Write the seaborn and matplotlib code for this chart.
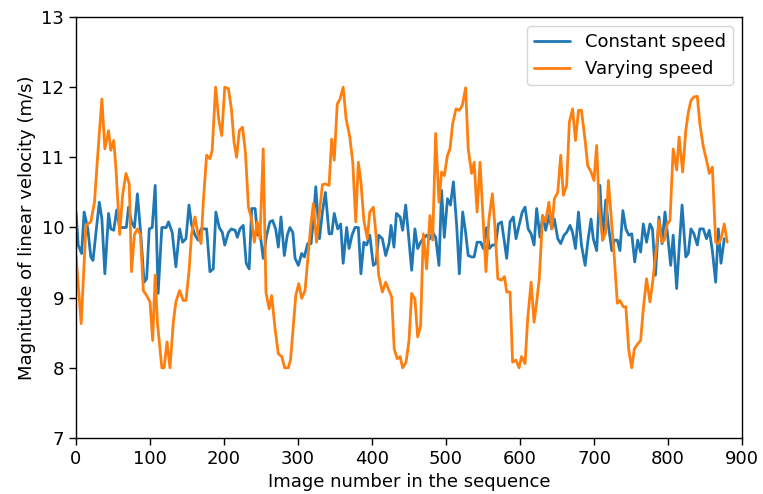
import matplotlib
matplotlib.use("Agg")
import matplotlib.pyplot as plt
import seaborn as sns
import pandas as pd

# Constant-speed run: frame index and speed magnitude
const_frame = [0, 3, 7.6, 11, 16, 20, 23, 27, 31.5, 35, 39, 44, 47, 51, 55, 59, 64, 68, 71, 75,
               79, 83, 88, 92, 95.5, 99, 103, 107, 111, 116, 122, 125, 130, 135, 140,
               144, 148.6, 152.7, 156, 160.8, 165, 169, 173, 176.5, 181, 185.5, 189, 193.6, 197.7,
               201, 206, 210, 215, 218, 221.6, 226, 230, 234, 237.4, 242, 245.5, 248.6, 253,
               257.6, 262, 265.7, 269.8, 273.4, 277, 281.5, 285.5, 289,
               293, 296, 300.5, 305, 308.6, 313, 317.6, 320.7, 324, 329, 333, 337, 342, 345.5,
               349, 353.6, 357.7, 361, 365.8, 369, 373, 377, 381.5, 385, 389, 392.8, 397, 401.8,
               405.5, 409, 414, 418.5, 423, 425.7, 429.7, 433, 438,
               441.4, 445.5, 449, 453.6, 458, 461.7, 465.7, 469.3, 473.8, 478.3, 482, 486, 490.5,
               494, 497.7, 502, 506, 510, 514.4, 518, 522.5, 526.5, 530, 534.6, 538, 542, 546.8,
               550.4, 555, 558.5, 562.6, 567, 570.7, 575, 579, 582, 586.5,
               591, 594.6, 598.7, 603, 606.8, 611, 615, 619, 622.5, 627, 630.6, 634.7, 639, 643,
               646.4, 651, 655, 659.5, 663, 667.6, 671, 675, 679, 683, 688, 691.5, 696, 699,
               703.6, 708, 711.7, 715.8, 719.4, 724, 727.5, 731.5, 735,
               739, 743, 747, 751, 755, 759, 763, 766.6, 771, 775.6, 779, 783, 787.8, 792, 795.9,
               799.5, 803.6, 807, 811.7, 815, 819, 824, 827.4, 831, 835, 839.6, 843, 847.7, 852,
               855.8, 859.9, 864.4, 868, 871.6, 876]
const_speed = [10.22, 9.75, 9.63, 10.22, 9.98, 9.58, 9.53, 9.93, 10.36, 10.12, 9.34, 10.2, 9.98,
               9.96, 10.25, 10.0, 10.0, 10.0, 10.29, 10.08, 10.0, 10.48, 9.84, 9.22, 9.27, 9.98,
               10.0, 10.6, 9.06, 10.0, 10.0, 10.08, 9.93, 9.44, 9.98,
               9.79, 9.84, 10.32, 10.05, 9.89, 9.82, 9.98, 9.98, 9.98, 9.37, 9.41, 10.22, 10.0,
               9.93, 9.75, 9.93, 9.98, 9.96, 9.86, 9.98, 10.03, 9.49, 9.41, 10.27, 10.27, 9.89,
               9.93, 9.56, 9.89, 10.08, 10.1, 9.98, 9.72, 10.15, 9.6, 9.89, 10.0,
               9.93, 9.56, 9.46, 9.63, 9.58, 9.77, 9.77, 10.1, 10.58, 9.84, 10.22, 10.5, 9.91,
               9.91, 10.2, 9.98, 10.05, 9.49, 10.0, 9.7, 9.89, 10.0, 10.0, 9.34, 9.79, 9.75,
               9.89, 9.46, 9.49, 9.89, 9.84, 9.6, 9.77, 10.03, 9.72, 10.2, 10.15,
               9.96, 10.32, 9.93, 9.39, 9.98, 9.7, 9.79, 9.84, 9.89, 9.84, 9.93, 9.86, 9.46,
               10.53, 9.86, 10.41, 10.32, 10.65, 10.03, 9.34, 10.22, 9.93, 9.6, 9.58, 9.58, 9.79,
               9.79, 9.7, 10.0, 9.7, 9.75, 9.75, 10.05, 10.08, 9.79, 9.56, 10.08,
               10.15, 9.84, 10.03, 10.22, 10.29, 9.98, 9.91, 9.75, 10.27, 9.86, 10.17, 9.96,
               10.17, 9.98, 10.12, 9.84, 9.77, 9.89, 9.93, 10.03, 9.93, 9.7, 10.22, 9.75, 9.46,
               9.79, 10.12, 9.84, 9.67, 10.6, 9.82, 10.39, 10.03, 9.67, 9.82, 9.82, 9.67,
               10.24, 9.98, 9.89, 9.91, 9.51, 9.82, 9.65, 10.05, 9.79, 10.05, 9.98, 9.32, 10.15,
               9.77, 10.22, 9.89, 9.46, 9.89, 9.13, 9.7, 10.32, 9.58, 9.63, 9.98, 9.91, 9.75,
               9.98, 9.98, 9.84, 9.96, 9.67, 9.22, 9.98, 9.49, 9.84]

# Varying-speed run: frame index and speed magnitude
vary_frame = [0, 7, 13.5, 20, 25, 29, 35, 39, 44, 47, 51, 54, 59, 63, 67.5, 72, 75, 79, 83, 87,
              91, 95.5, 100, 103.6, 107, 110, 116, 119, 123, 127, 131.5, 135, 140,
              145, 148.6, 152.7, 156, 160.8, 165, 169, 172, 176.5, 181, 184, 188.7, 193, 197,
              201, 206, 210, 213.5, 217, 220.7, 225, 229, 233, 237, 241, 245, 248.6, 253,
              256.7, 261, 264.4, 269, 273.4, 278, 282, 287,
              290, 293.7, 297, 301, 305, 309.5, 314, 317, 320.7, 325, 329, 333, 337, 342,
              345.5, 349, 353, 356.8, 361, 365, 370, 374, 378, 381.5, 385, 389, 393.7, 397,
              401.8, 405.5, 409, 414, 418.5, 422, 426.6, 430, 434, 438,
              441.4, 446, 450, 453.6, 458, 461.7, 465.7, 469.3, 473.8, 478.3, 482, 486, 490.5,
              494, 497.7, 502, 505.4, 509, 513.5, 518, 522, 526.5, 530, 534.6, 538, 542, 546,
              550.4, 554, 558, 562.6, 566, 570, 575, 579, 582, 586.5,
              590, 594.6, 598.7, 602, 606.8, 610.4, 615, 619, 622.5, 626, 630.6, 634.7, 639,
              643, 646.4, 651, 655, 658.6, 663, 666.7, 671, 675, 679, 683, 688, 691.5, 696,
              700, 703.6, 707, 711.7, 715.8, 719.4, 724, 727.5, 731.5, 735,
              739.6, 743, 747, 751, 754.5, 759, 763, 766.6, 771, 775.6, 779, 783, 787.8, 791.4,
              795, 799, 802.7, 807, 811.7, 815, 819.8, 824, 827.4, 831, 835, 839.6, 843, 847.7,
              852, 855.8, 859.9, 864.4, 868, 871.6, 876, 880]
vary_speed = [9.6, 8.63, 10.03, 10.08, 10.36, 10.98, 11.83, 11.12, 11.38, 11.1, 11.24, 10.84,
              9.9, 10.46, 10.77, 10.62, 9.37, 9.9, 9.98, 9.9, 9.1, 9.03, 8.94, 8.39, 9.32, 8.65,
              8.0, 8.0, 8.37, 8.0, 8.65, 8.94, 9.1,
              8.96, 8.96, 9.37, 9.89, 10.15, 9.89, 9.77, 10.36, 11.03, 10.98, 11.1, 12.0, 11.53,
              11.31, 12.0, 11.98, 11.69, 11.22, 11.0, 11.38, 11.43, 11.07, 10.29, 10.13, 9.79,
              10.08, 9.84, 11.12, 9.08, 8.84, 9.03, 8.56, 8.2, 8.16, 8.0, 8.0,
              8.12, 8.6, 9.03, 9.2, 8.99, 9.1, 9.65, 10.0, 10.34, 9.79, 10.22, 10.61, 10.62,
              10.6, 11.26, 10.96, 11.76, 11.83, 12.0, 11.55, 11.29, 10.93, 10.08, 10.93, 10.65,
              10.1, 9.84, 10.22, 10.29, 9.89, 9.32, 9.08, 9.22, 9.13, 9.01, 8.27, 8.13, 8.16,
              8.0, 8.08, 8.39, 9.06, 8.98, 8.44, 8.6, 9.91, 9.41, 10.17, 9.82, 11.34, 10.36,
              10.79, 10.74, 11.03, 11.12, 11.48, 11.69, 11.67, 11.74, 11.99, 11.12, 10.77, 10.93,
              10.22, 10.93, 10.08, 9.37, 10.12, 10.48, 10.03, 9.27, 9.25, 9.3, 9.08, 9.08,
              8.08, 8.11, 8.0, 8.16, 8.06, 8.7, 9.22, 8.65, 8.94, 9.27, 10.17, 10.08, 10.36,
              9.98, 10.41, 10.5, 11.03, 10.46, 10.6, 11.5, 11.69, 11.24, 11.67, 11.67, 11.24,
              10.88, 10.79, 10.67, 11.17, 10.27, 9.82, 9.93, 10.67, 10.03, 9.56, 8.92, 8.96,
              8.87, 8.87, 8.25, 8.0, 8.27, 8.34, 8.39, 8.84, 9.27, 8.94, 9.2, 9.58, 10.1, 9.79,
              9.82, 10.05, 10.1, 11.12, 10.82, 11.29, 10.79, 11.38, 11.64, 11.81, 11.86, 11.87,
              11.48, 11.15, 10.96, 10.77, 10.86, 9.79, 9.77, 9.84, 10.05, 9.79]

series_names = ["Constant speed", "Varying speed"]

df = pd.concat([
    pd.DataFrame({"frame": const_frame, "speed": const_speed, "run": series_names[0]}),
    pd.DataFrame({"frame": vary_frame, "speed": vary_speed, "run": series_names[1]}),
], ignore_index=True)

sns.set_style("ticks", rc={
    "axes.edgecolor": "black",
    "axes.labelcolor": "black",
    "text.color": "black",
    "xtick.color": "black",
    "ytick.color": "black",
})
plt.rcParams["font.family"] = ["DejaVu Sans"]

fig = plt.figure(figsize=(7.63, 4.94), dpi=100)
ax = fig.add_axes([0.0996, 0.1134, 0.8729, 0.8522])

sns.lineplot(data=df, x="frame", y="speed", hue="run", hue_order=series_names,
             palette=["#1f77b4", "#ff7f0e"], estimator=None, sort=False,
             linewidth=2.0, ax=ax)

ax.set_xlim(0, 900)
ax.set_ylim(7, 13)
ax.set_xticks(range(0, 901, 100))
ax.set_yticks(range(7, 14))
ax.tick_params(labelsize=13, length=5, width=1)
for s in ax.spines.values():
    s.set_linewidth(1)
    s.set_visible(True)
ax.set_xlabel("Image number in the sequence", fontsize=13)
ax.set_ylabel("Magnitude of linear velocity (m/s)", fontsize=13)

leg = ax.legend(loc="upper right", fontsize=13, frameon=True, fancybox=True,
                edgecolor="#cccccc", framealpha=0.8)
for line in leg.get_lines():
    line.set_linewidth(2.0)

fig.savefig("out.png", dpi=100)
